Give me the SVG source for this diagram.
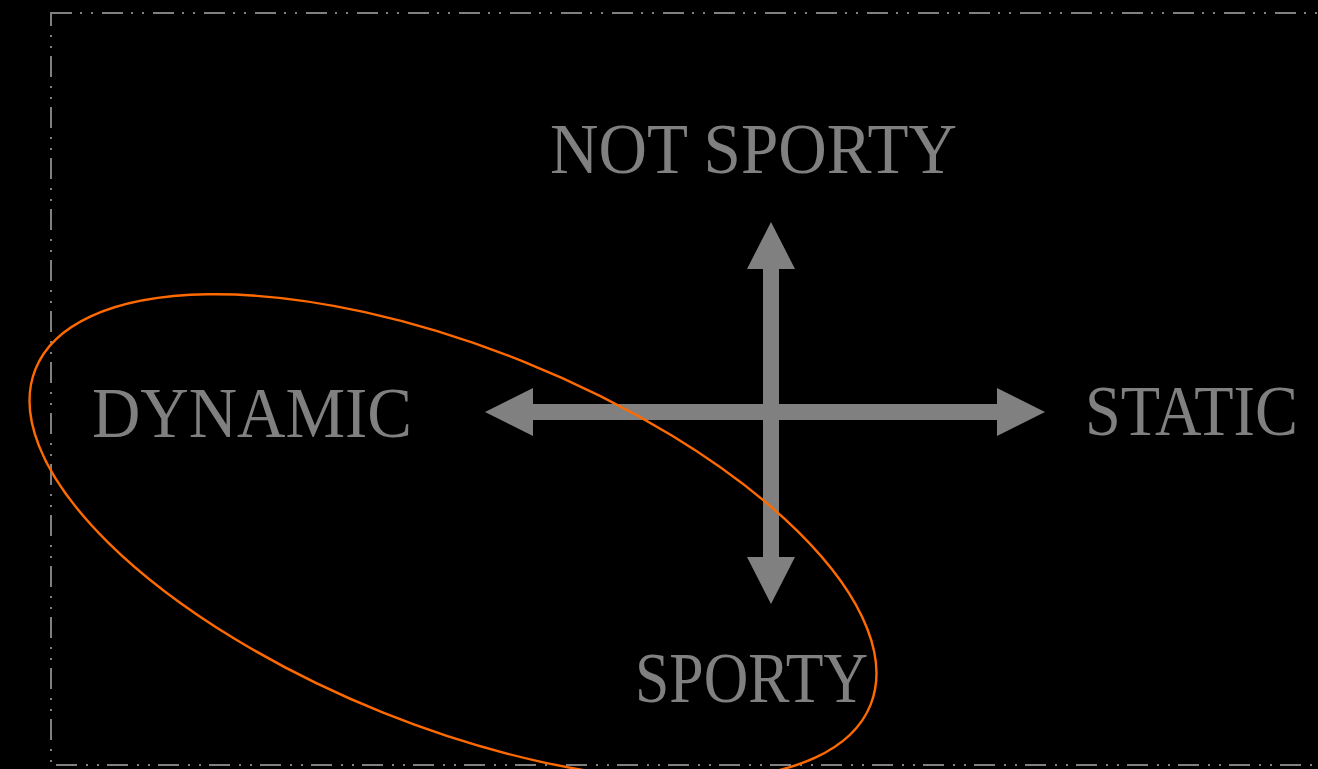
<svg xmlns="http://www.w3.org/2000/svg" width="1318" height="769" viewBox="0 0 1318 769">
<defs>
<style>
.lbl{font-family:"Liberation Serif","Times New Roman",serif;font-size:72px;fill:#808080}
.axis{fill:#808080}
</style>
</defs>
<rect x="0" y="0" width="1318" height="769" fill="#000"/>
<rect x="51" y="13" width="1320" height="752" fill="none" stroke="#808080" stroke-width="2" stroke-dasharray="21 8 2 9 2 9"/>
<g id="connectors">
<path class="axis" d="M485,412 L533,388 L533,404 L997,404 L997,388 L1045,412 L997,436 L997,420 L533,420 L533,436 Z"/>
<path class="axis" d="M771,222 L795,269 L779,269 L779,557 L795,557 L771,604 L747,557 L763,557 L763,269 L747,269 Z"/>
</g>
<g id="cluster">
<ellipse cx="453" cy="537" rx="450" ry="189" transform="rotate(21.9 453 537)" fill="none" stroke="#FF6A00" stroke-width="2.4"/>
</g>
<g id="node-not-sporty"><text class="lbl" x="550" y="173" textLength="407" lengthAdjust="spacingAndGlyphs">NOT SPORTY</text></g>
<g id="node-dynamic"><text class="lbl" x="92" y="437" textLength="320" lengthAdjust="spacingAndGlyphs">DYNAMIC</text></g>
<g id="node-static"><text class="lbl" x="1085" y="435" textLength="213" lengthAdjust="spacingAndGlyphs">STATIC</text></g>
<g id="node-sporty"><text class="lbl" x="635" y="702" textLength="233" lengthAdjust="spacingAndGlyphs">SPORTY</text></g>
</svg>
